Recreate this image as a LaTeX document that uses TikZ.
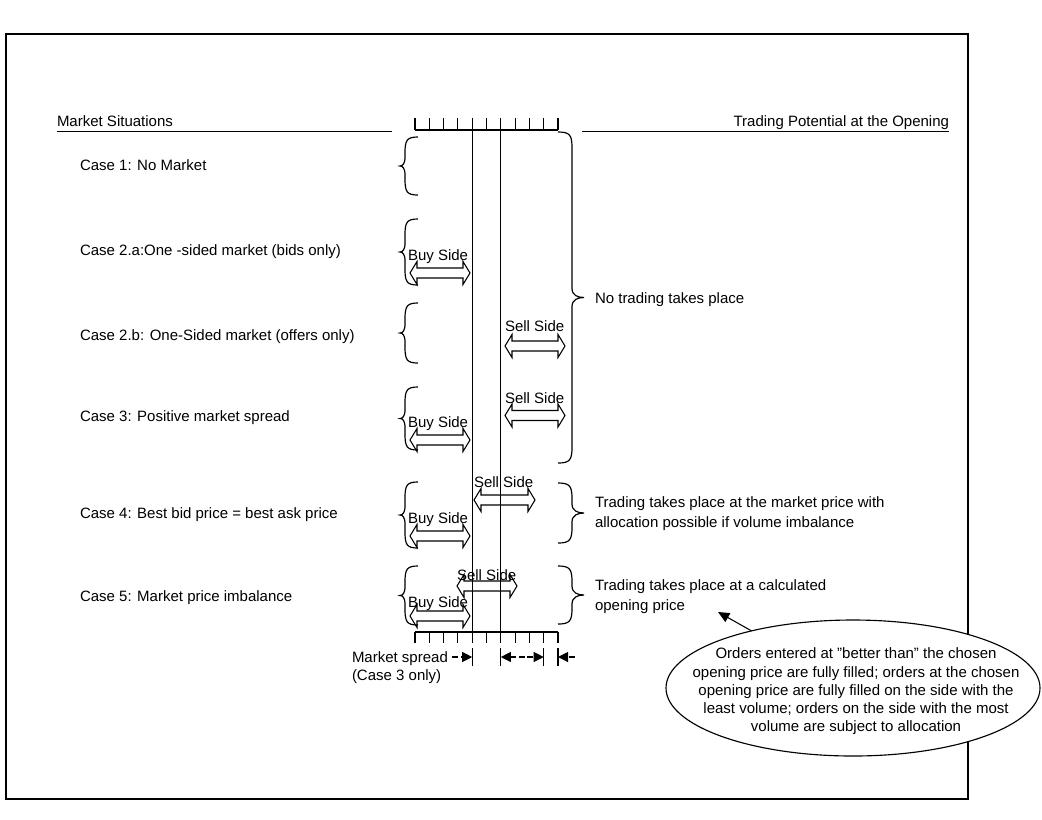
\documentclass[tikz,border=0pt]{standalone}
\usepackage{fontspec}
\setmainfont{Liberation Sans}
\usetikzlibrary{arrows.meta,shapes.geometric}

% #1 arm x, #2 spine x, #3 tip x, #4 top y, #5 bottom y
\newcommand{\curlybr}[5]{%
  \draw[bracestyle] (#1,#4) .. controls ({#2+0.15*(#1-#2)},#4) and (#2,{#4+3}) .. (#2,{#4+16})
    -- (#2,{(#4+#5)/2-9}) .. controls (#2,{(#4+#5)/2-2}) and ({#2+0.5*(#3-#2)},{(#4+#5)/2}) .. (#3,{(#4+#5)/2})
    .. controls ({#2+0.5*(#3-#2)},{(#4+#5)/2}) and (#2,{(#4+#5)/2+2}) .. (#2,{(#4+#5)/2+9})
    -- (#2,{#5-16}) .. controls (#2,{#5-3}) and ({#2+0.15*(#1-#2)},#5) .. (#1,#5);}
% #1 left x, #2 right x, #3 centre y
\newcommand{\dblarr}[3]{%
  \draw[blockarr] (#1,#3) -- ({#1+7},{#3-11.5}) -- ({#1+7},{#3-5})
    -- ({#2-7},{#3-5}) -- ({#2-7},{#3-11.5}) -- (#2,#3)
    -- ({#2-7},{#3+11.5}) -- ({#2-7},{#3+5}) -- ({#1+7},{#3+5})
    -- ({#1+7},{#3+11.5}) -- cycle;}
\newcommand{\dq}{\symbol{34}}

\begin{document}
\begin{tikzpicture}[x=0.75pt,y=-0.75pt,
  font=\fontsize{11.25pt}{13.7pt}\selectfont,
  lbl/.style={anchor=base west, inner sep=0pt, outer sep=0pt},
  lblr/.style={anchor=base east, inner sep=0pt, outer sep=0pt},
  bracestyle/.style={line width=0.9pt},
  blockarr/.style={line width=0.8pt, line join=miter},
  rulerline/.style={line width=0.85pt},
  thinline/.style={line width=0.75pt},
  framebox/.style={line width=0.9pt},
  spreadmark/.style={line width=0.8pt, dash pattern=on 4.5pt off 2.2pt,
     -{Triangle[length=7.5pt,width=7.5pt]}},
  barmark/.style={line width=0.9pt}]
\useasboundingbox (0,0) rectangle (1042,819);

% frame
\draw[framebox] (6,34) rectangle (968,799);

% headers
\node[lbl] (hleft) at (57,126) {Market Situations};
\node[lblr] (hright) at (949,126) {Trading Potential at the Opening};
\draw[thinline] (57,131) -- (392,131);
\draw[thinline] (582,131) -- (949,131);

% rulers
\draw[rulerline] (415,130) -- (558,130);
\draw[rulerline] (415,632) -- (558,632);
\foreach \k in {0,...,10} {
  \draw[rulerline] ({415+14.3*\k},118) -- ({415+14.3*\k},130);
  \draw[rulerline] ({415+14.3*\k},632) -- ({415+14.3*\k},643);
}
\draw[rulerline] (472.2,130) -- (472.2,632);
\draw[rulerline] (500.8,130) -- (500.8,632);

% case labels
\node[lbl] (c1) at (80,170) {Case 1: No Market};
\node[lbl] (c2a) at (80,255) {Case 2.a:One -sided market (bids only)};
\node[lbl] (c2b) at (80,340) {Case 2.b: One-Sided market (offers only)};
\node[lbl] (c3) at (80,421) {Case 3: Positive market spread};
\node[lbl] (c4) at (80,518) {Case 4: Best bid price = best ask price};
\node[lbl] (c5) at (80,601) {Case 5: Market price imbalance};

% left braces
\curlybr{418}{405}{400}{137}{195}
\curlybr{418}{405}{400}{219}{285}
\curlybr{418}{405}{400}{303}{363}
\curlybr{418}{405}{400}{387}{450}
\curlybr{418}{405}{400}{482}{548}
\curlybr{418}{405}{400}{566}{625}

% right braces
\curlybr{558}{572}{584}{132}{463}
\curlybr{558}{572}{584}{483}{543}
\curlybr{558}{572}{584}{566}{624}

% buy side arrows
\dblarr{410}{470}{273}
\dblarr{410}{470}{440}
\dblarr{410}{470}{536}
\dblarr{410}{470}{616}
\node[lbl] (b2a) at (408,260) {Buy Side};
\node[lbl] (b3) at (408,427) {Buy Side};
\node[lbl] (b4) at (408,523) {Buy Side};
\node[lbl] (b5) at (408,607) {Buy Side};

% sell side arrows
\dblarr{505}{565}{346}
\dblarr{505}{565}{415.5}
\dblarr{474}{535}{500}
\dblarr{457}{517}{586}
\node[lbl] (s2b) at (505,331) {Sell Side};
\node[lbl] (s3) at (505,403) {Sell Side};
\node[lbl] (s4) at (474,487) {Sell Side};
\node[lbl] (s5) at (457,580) {Sell Side};

% right texts
\node[lbl] (r123) at (595,303) {No trading takes place};
\node[lbl] (r4a) at (595,507) {Trading takes place at the market price with};
\node[lbl] (r4b) at (595,527) {allocation possible if volume imbalance};
\node[lbl] (r5a) at (595,590) {Trading takes place at a calculated};
\node[lbl] (r5b) at (595,610) {opening price};

% market spread marks
\node[lbl] (ms1) at (352,662) {Market spread};
\node[lbl] (ms2) at (352,680) {(Case 3 only)};
\coordinate (m1s) at (452,657); \coordinate (m1e) at (472.2,657);
\coordinate (m2s) at (525,657); \coordinate (m2e) at (500.8,657);
\coordinate (m3s) at (527,657); \coordinate (m3e) at (543.7,657);
\coordinate (m4s) at (575,657); \coordinate (m4e) at (558,657);
\draw[spreadmark] (m1s) -- (m1e);
\draw[spreadmark] (m2s) -- (m2e);
\draw[spreadmark] (m3s) -- (m3e);
\draw[spreadmark] (m4s) -- (m4e);
\foreach \bx [count=\i] in {472.2,500.8,543.7,558} {
  \coordinate (bt\i) at (\bx,648); \coordinate (bb\i) at (\bx,666);
  \draw[barmark] (bt\i) -- (bb\i);
}

% callout ellipse
\node[draw, fill=white, ellipse, line width=0.85pt, minimum width=280.5pt,
      minimum height=102pt, inner sep=0pt, outer sep=0pt] (ell) at (853,688) {};
\node[align=center, inner sep=0pt] (elltext) at (856,691.5)
  {Orders entered at \dq better than\dq{} the chosen\\
   opening price are fully filled; orders at the chosen\\
   opening price are fully filled on the side with the\\
   least volume; orders on the side with the most\\
   volume are subject to allocation};
\coordinate (tipc) at (718,612);
\draw[line width=0.8pt, -{Triangle[length=8.5pt,width=7.5pt]}] (ell) -- (tipc);
\end{tikzpicture}
\end{document}
